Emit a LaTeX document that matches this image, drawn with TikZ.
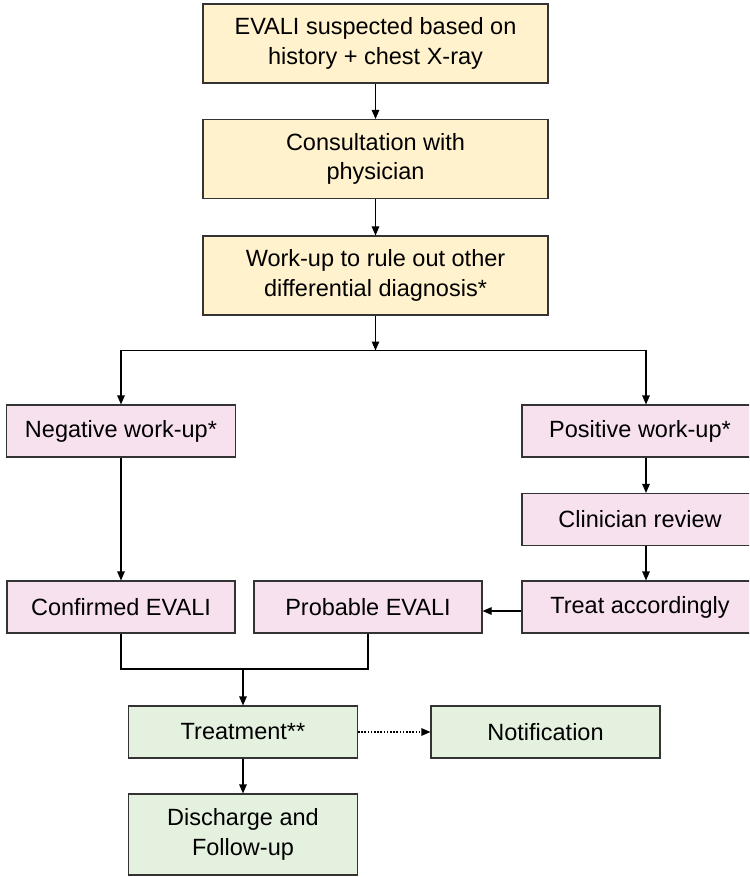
\documentclass[tikz,border=0pt]{standalone}
\usepackage{fontspec}
\setmainfont{Liberation Sans}
\usetikzlibrary{arrows.meta}
\definecolor{yfill}{HTML}{FFF2CC}
\definecolor{pfill}{HTML}{F8E1EE}
\definecolor{gfill}{HTML}{E4F1DF}
\definecolor{edge}{HTML}{333333}
\tikzset{
  box/.style={draw=edge, line width=1.1pt, align=center, inner sep=0pt,
    font=\fontsize{23.5}{29.5}\selectfont, text=black},
  ybox/.style={box, fill=yfill, minimum width=345pt, minimum height=79pt},
  pbox/.style={box, fill=pfill, minimum width=229pt, minimum height=52pt},
  rbox/.style={box, fill=pfill, minimum width=236pt, minimum height=52pt},
  gbox/.style={box, fill=gfill, minimum width=229pt, minimum height=52pt},
  arr/.style={draw=black, line width=1.1pt, -{Triangle[length=9pt,width=7.5pt]}},
  plain/.style={draw=black, line width=1.1pt},
  dotarr/.style={arr, dash pattern=on 1.6pt off 1.6pt}
}
\begin{document}
\begin{tikzpicture}[x=1pt,y=-1pt]
\useasboundingbox (0,0) rectangle (749,877);
\clip (0,0) rectangle (749,877);
\fill[white] (0,0) rectangle (749,877);

\node[ybox] (b1) at (375.5,43.5) {EVALI suspected based on\\history + chest X-ray};
\node[ybox] (b2) at (375.5,159) {Consultation with\\physician};
\node[ybox] (b3) at (375.5,275.5) {Work-up to rule out other\\differential diagnosis*};

\node[pbox] (neg) at (121,431) {Negative work-up*};
\node[rbox] (pos) at (640,431) {Positive work-up*};
\node[rbox] (clin) at (640,519.5) {Clinician review};
\node[rbox] (treatacc) at (640,607) {Treat accordingly};
\node[pbox, minimum width=228pt] (conf) at (121,607) {Confirmed EVALI};
\node[pbox, minimum width=228pt] (prob) at (368,607) {Probable EVALI};

\node[gbox] (treat) at (243,732) {Treatment**};
\node[gbox] (notif) at (545.5,732) {Notification};
\node[gbox, minimum height=81pt] (dis) at (243,834.5) {Discharge and\\Follow-up};

\coordinate (split) at (375.5,350.5);
\coordinate (join) at (243,669);

\draw[arr] (b1) -- (b2);
\draw[arr] (b2) -- (b3);
\draw[arr] (b3) -- (split);
\draw[arr] (split) -| (neg);
\draw[arr] (split) -| ([xshift=6pt]pos.north);
\draw[arr] (neg) -- (conf);
\draw[arr] ([xshift=6pt]pos.south) -- ([xshift=6pt]clin.north);
\draw[arr] ([xshift=6pt]clin.south) -- ([xshift=6pt]treatacc.north);
\draw[arr] ([yshift=-4pt]treatacc.west) -- ([yshift=-4pt]prob.east);
\draw[plain] (conf.south) |- (join) -| (prob.south);
\draw[arr] (join) -- (treat);
\draw[dotarr] (treat) -- (notif);
\draw[arr] (treat) -- (dis);
\end{tikzpicture}
\end{document}
